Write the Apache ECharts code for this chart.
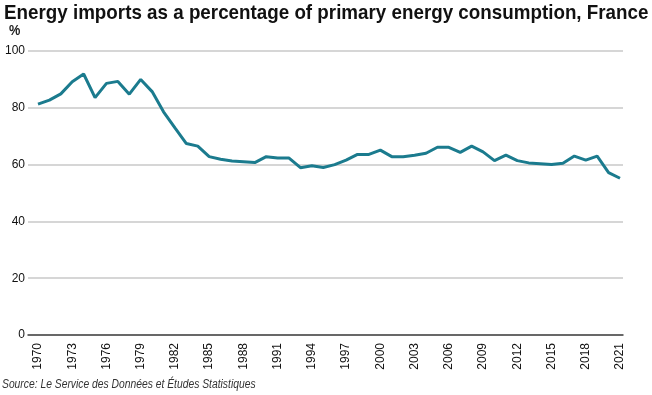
<!DOCTYPE html>
<html>
<head>
<meta charset="utf-8">
<script src="https://cdn.jsdelivr.net/npm/echarts@6/dist/echarts.min.js"></script>
<style>html,body{margin:0;padding:0;background:#fff}#c{width:652px;height:395px}</style>
</head>
<body>
<div id="c"></div>
<script>
const years = [];
for (let y = 1970; y <= 2021; y++) years.push(y);
const importShare = [
  81.3, 82.7, 84.9, 89.2, 91.9, 83.6, 88.6, 89.3, 84.8, 90.0,
  85.7, 78.6, 72.9, 67.4, 66.5, 62.8, 61.9, 61.3, 61.0, 60.7,
  62.8, 62.3, 62.3, 58.9, 59.6, 59.0, 60.0, 61.6, 63.6, 63.6,
  65.1, 62.8, 62.8, 63.3, 64.0, 66.1, 66.1, 64.3, 66.5, 64.5,
  61.4, 63.3, 61.4, 60.6, 60.3, 60.0, 60.5, 63.0, 61.6, 63.0,
  57.2, 55.2
];
const xTickLabels = [1970,1973,1976,1979,1982,1985,1988,1991,1994,1997,2000,2003,2006,2009,2012,2015,2018,2021];
const yTicks = [0, 20, 40, 60, 80, 100];
const titleText = 'Energy imports as a percentage of primary energy consumption, France';
const sourceText = 'Source: Le Service des Données et Études Statistiques';

const font = "'Liberation Sans', Arial, sans-serif";
const chart = echarts.init(document.getElementById('c'));
chart.setOption({
  animation: false,
  graphic: [{
    type: 'text', x: 4, y: 3, scaleX: 0.895,
    style: { text: titleText, font: "bold 21px 'Liberation Sans', Arial, sans-serif", fill: '#111', textVerticalAlign: 'top' }
  }, {
    type: 'text', x: 9, y: 23, scaleX: 0.85,
    style: { text: '%', font: "bold 15px 'Liberation Sans', Arial, sans-serif", fill: '#222', textVerticalAlign: 'top' }
  }, {
    type: 'text', x: 2, y: 379, scaleX: 0.86,
    style: { text: sourceText, font: "italic 12px 'Liberation Sans', Arial, sans-serif", fill: '#333', textVerticalAlign: 'top' }
  }],
  grid: { left: 28, right: 29, top: 51, bottom: 60 },
  xAxis: {
    type: 'value',
    min: 1970 - 10 / 11.41,
    max: 2021 + 3 / 11.41,
    axisLine: { show: true, lineStyle: { color: '#444', width: 1.5 } },
    axisTick: { show: false },
    splitLine: { show: false },
    axisLabel: {
      customValues: xTickLabels,
      rotate: 90,
      margin: 8,
      fontFamily: font, fontSize: 12, color: '#111',
      formatter: v => String(Math.round(v))
    }
  },
  yAxis: {
    type: 'value',
    min: 0, max: 100, interval: 20,
    axisLine: { show: false },
    axisTick: { show: false },
    splitLine: { lineStyle: { color: '#c9c9c9', width: 1.5 } },
    axisLabel: { margin: 3, fontFamily: font, fontSize: 12, color: '#111',
      customValues: yTicks }
  },
  series: [{
    type: 'line',
    data: years.map((y, i) => [y, importShare[i]]),
    symbol: 'none',
    lineStyle: { color: '#1b7b8e', width: 3 },
    z: 3
  }]
});
</script>
</body>
</html>
